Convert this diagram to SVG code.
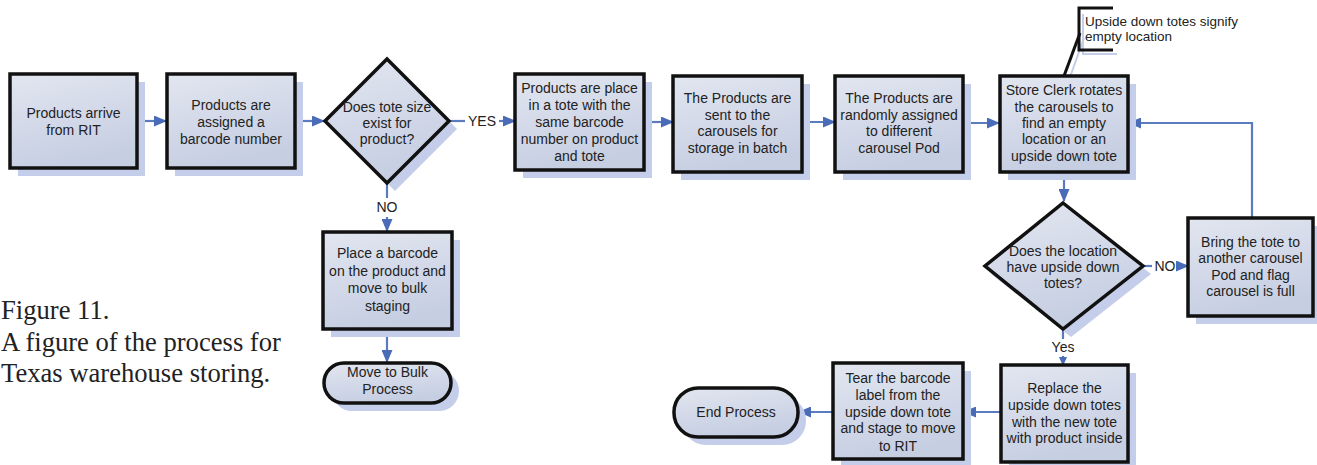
<svg xmlns="http://www.w3.org/2000/svg" width="1317" height="465" viewBox="0 0 1317 465">
  <defs>
    <linearGradient id="fillGrad" x1="0" y1="0" x2="0.3" y2="1">
      <stop offset="0" stop-color="#e2e6f0"/>
      <stop offset="1" stop-color="#c6cee2"/>
    </linearGradient>
    <marker id="arrow" markerUnits="userSpaceOnUse" markerWidth="13" markerHeight="11" refX="12" refY="5.5" orient="auto">
      <path d="M0,0 L13,5.5 L0,11 z" fill="#4a6cb8"/>
    </marker>
    <marker id="arrowSmall" markerUnits="userSpaceOnUse" markerWidth="9" markerHeight="8" refX="8" refY="4" orient="auto">
      <path d="M0,0 L9,4 L0,8 z" fill="#4a6cb8"/>
    </marker>
  </defs>
  <style>
    .shadow { fill: #c4cdea; stroke: none; }
    .node { fill: url(#fillGrad); stroke: #111; stroke-width: 3.5; }
    .label { font-family: "Liberation Sans", Arial, sans-serif; font-size: 14px; fill: #222; text-anchor: middle; }
    .edge-label { font-family: "Liberation Sans", Arial, sans-serif; font-size: 14px; fill: #222; text-anchor: middle; }
    .conn { fill: none; stroke: #5a7bc0; stroke-width: 2.2; }
    .note { font-family: "Liberation Sans", Arial, sans-serif; font-size: 13.5px; fill: #222; }
    .caption { font-family: "Liberation Serif", "Times New Roman", serif; font-size: 26.6px; fill: #222; }
  </style>

  <rect width="1317" height="465" fill="#ffffff"/>

  <!-- caption -->
  <g id="caption">
    <text class="caption" x="1" y="319">Figure 11.</text>
    <text class="caption" x="1" y="351">A figure of the process for</text>
    <text class="caption" x="1" y="382">Texas warehouse storing.</text>
  </g>

  <!-- connectors -->
  <g id="connectors">
    <line class="conn" x1="137" y1="121" x2="166" y2="121" marker-end="url(#arrow)"/>
    <line class="conn" x1="295" y1="121" x2="324" y2="121" marker-end="url(#arrow)"/>
    <line class="conn" x1="449" y1="121" x2="465" y2="121"/>
    <line class="conn" x1="499" y1="121" x2="515" y2="121" marker-end="url(#arrow)"/>
    <line class="conn" x1="387" y1="184" x2="387" y2="198"/>
    <line class="conn" x1="387" y1="217" x2="387" y2="231" marker-end="url(#arrow)"/>
    <line class="conn" x1="387" y1="329" x2="387" y2="362" marker-end="url(#arrow)"/>
    <line class="conn" x1="644" y1="122" x2="673" y2="122" marker-end="url(#arrow)"/>
    <line class="conn" x1="802" y1="122" x2="835" y2="122" marker-end="url(#arrow)"/>
    <line class="conn" x1="963" y1="123" x2="999" y2="123" marker-end="url(#arrow)"/>
    <line class="conn" x1="1064" y1="172" x2="1064" y2="201" marker-end="url(#arrow)"/>
    <line class="conn" x1="1144" y1="266" x2="1152" y2="266"/>
    <line class="conn" x1="1176" y1="266" x2="1188" y2="266" marker-end="url(#arrow)"/>
    <polyline class="conn" points="1252,218 1252,123 1129,123" marker-end="url(#arrow)"/>
    <line class="conn" x1="1063" y1="329" x2="1063" y2="339"/>
    <line class="conn" x1="1063" y1="356" x2="1063" y2="365" marker-end="url(#arrowSmall)"/>
    <line class="conn" x1="1001" y1="412" x2="964" y2="412" marker-end="url(#arrow)"/>
    <line class="conn" x1="833" y1="412" x2="799" y2="412" marker-end="url(#arrow)"/>
    <text class="edge-label" x="482" y="126">YES</text>
    <text class="edge-label" x="387" y="212">NO</text>
    <text class="edge-label" x="1165" y="271">NO</text>
    <text class="edge-label" x="1063" y="352">Yes</text>
  </g>

  <!-- note callout -->
  <g id="note-upside-down">
    <path d="M1083,14 V54 H1117" fill="none" stroke="#c4cdea" stroke-width="2"/>
    <line x1="1084" y1="38" x2="1069" y2="80" stroke="#c4cdea" stroke-width="2"/>
    <path d="M1113,8 H1079 V50 H1113" fill="none" stroke="#111" stroke-width="3"/>
    <line x1="1080" y1="33" x2="1064" y2="76" stroke="#111" stroke-width="3"/>
    <text class="note" x="1085" y="26">Upside down totes signify</text>
    <text class="note" x="1085" y="41">empty location</text>
  </g>

  <g id="n-arrive">
    <rect class="shadow" x="18" y="82" width="127" height="94"/>
    <rect class="node" x="10" y="74" width="127" height="94"/>
    <text class="label" x="73.5" y="118">Products arrive</text>
    <text class="label" x="73.5" y="135">from RIT</text>
  </g>

  <g id="n-barcode">
    <rect class="shadow" x="175" y="82" width="128" height="94"/>
    <rect class="node" x="167" y="74" width="128" height="94"/>
    <text class="label" x="231" y="110">Products are</text>
    <text class="label" x="231" y="127">assigned a</text>
    <text class="label" x="231" y="144">barcode number</text>
  </g>

  <g id="d-tote-size">
    <polygon class="shadow" points="395,67 457,129 395,191 333,129"/>
    <polygon class="node" points="387,59 449,121 387,183 325,121"/>
    <text class="label" x="387" y="112">Does tote size</text>
    <text class="label" x="387" y="128">exist for</text>
    <text class="label" x="387" y="144">product?</text>
  </g>

  <g id="n-place-tote">
    <rect class="shadow" x="523" y="82" width="129" height="96"/>
    <rect class="node" x="515" y="74" width="129" height="96"/>
    <text class="label" x="579.5" y="93">Products are place</text>
    <text class="label" x="579.5" y="110">in a tote with the</text>
    <text class="label" x="579.5" y="127">same barcode</text>
    <text class="label" x="579.5" y="144">number on product</text>
    <text class="label" x="579.5" y="161">and tote</text>
  </g>

  <g id="n-sent">
    <rect class="shadow" x="681" y="84" width="129" height="96"/>
    <rect class="node" x="673" y="76" width="129" height="96"/>
    <text class="label" x="737.5" y="103">The Products are</text>
    <text class="label" x="737.5" y="120">sent to the</text>
    <text class="label" x="737.5" y="136">carousels for</text>
    <text class="label" x="737.5" y="153">storage in batch</text>
  </g>

  <g id="n-random">
    <rect class="shadow" x="843" y="84" width="128" height="96"/>
    <rect class="node" x="835" y="76" width="128" height="96"/>
    <text class="label" x="899" y="103">The Products are</text>
    <text class="label" x="899" y="120">randomly assigned</text>
    <text class="label" x="899" y="136">to different</text>
    <text class="label" x="899" y="153">carousel Pod</text>
  </g>

  <g id="n-clerk">
    <rect class="shadow" x="1008" y="84" width="128" height="96"/>
    <rect class="node" x="1000" y="76" width="128" height="96"/>
    <text class="label" x="1064" y="95">Store Clerk rotates</text>
    <text class="label" x="1064" y="112">the carousels to</text>
    <text class="label" x="1064" y="128">find an empty</text>
    <text class="label" x="1064" y="144">location or an</text>
    <text class="label" x="1064" y="161">upside down tote</text>
  </g>

  <g id="d-location">
    <polygon class="shadow" points="1071,211 1151,274 1071,337 991,274"/>
    <polygon class="node" points="1063,203 1143,266 1063,329 985,266"/>
    <text class="label" x="1063" y="256">Does the location</text>
    <text class="label" x="1063" y="272">have upside down</text>
    <text class="label" x="1063" y="288">totes?</text>
  </g>

  <g id="n-bring">
    <rect class="shadow" x="1196" y="226" width="121" height="98"/>
    <rect class="node" x="1188" y="218" width="125" height="98"/>
    <text class="label" x="1250.5" y="247">Bring the tote to</text>
    <text class="label" x="1250.5" y="263">another carousel</text>
    <text class="label" x="1250.5" y="280">Pod and flag</text>
    <text class="label" x="1250.5" y="296">carousel is full</text>
  </g>

  <g id="n-place-barcode">
    <rect class="shadow" x="331" y="240" width="129" height="97"/>
    <rect class="node" x="323" y="232" width="129" height="97"/>
    <text class="label" x="387.5" y="258">Place a barcode</text>
    <text class="label" x="387.5" y="276">on the product and</text>
    <text class="label" x="387.5" y="293">move to bulk</text>
    <text class="label" x="387.5" y="311">staging</text>
  </g>

  <g id="t-bulk">
    <rect class="shadow" x="332" y="371" width="127" height="40" rx="20"/>
    <rect class="node" x="324" y="363" width="127" height="40" rx="20"/>
    <text class="label" x="387.5" y="377">Move to Bulk</text>
    <text class="label" x="387.5" y="394">Process</text>
  </g>

  <g id="n-replace">
    <rect class="shadow" x="1009" y="373" width="127" height="92"/>
    <rect class="node" x="1001" y="365" width="127" height="97"/>
    <text class="label" x="1064.5" y="393">Replace the</text>
    <text class="label" x="1064.5" y="410">upside down totes</text>
    <text class="label" x="1064.5" y="427">with the new tote</text>
    <text class="label" x="1064.5" y="443">with product inside</text>
  </g>

  <g id="n-tear">
    <rect class="shadow" x="841" y="371" width="130" height="94"/>
    <rect class="node" x="833" y="363" width="130" height="96"/>
    <text class="label" x="898" y="383">Tear the barcode</text>
    <text class="label" x="898" y="400">label from the</text>
    <text class="label" x="898" y="417">upside down tote</text>
    <text class="label" x="898" y="433">and stage to move</text>
    <text class="label" x="898" y="451">to RIT</text>
  </g>

  <g id="t-end">
    <rect class="shadow" x="682" y="396" width="124" height="49" rx="24"/>
    <rect class="node" x="674" y="388" width="124" height="49" rx="24"/>
    <text class="label" x="736" y="417">End Process</text>
  </g>
</svg>
